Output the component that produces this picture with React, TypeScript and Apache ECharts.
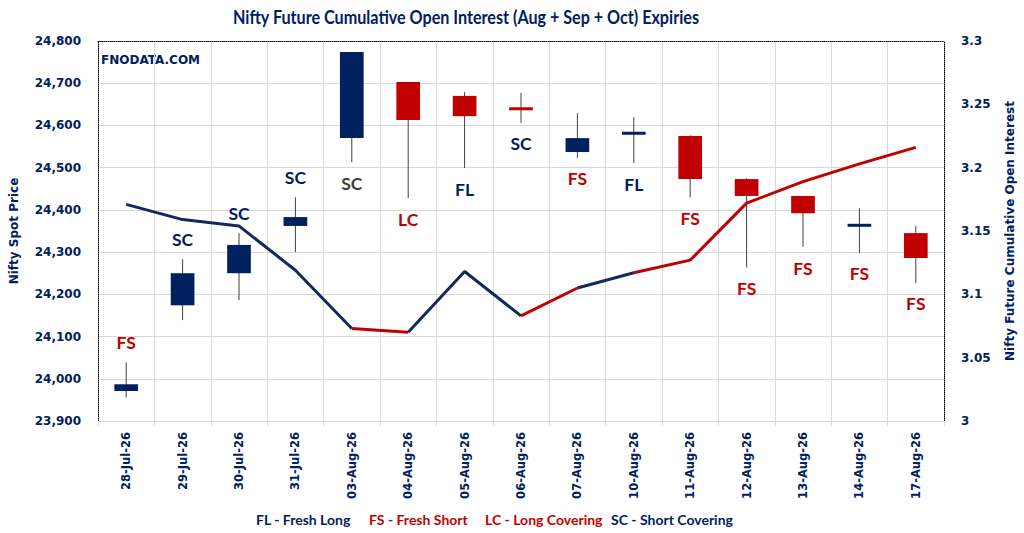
import React, { useEffect, useRef } from "react";
import * as echarts from "echarts";

const categories = [
  "28-Jul-26", "29-Jul-26", "30-Jul-26", "31-Jul-26", "03-Aug-26", "04-Aug-26", "05-Aug-26",
  "06-Aug-26", "07-Aug-26", "10-Aug-26", "11-Aug-26", "12-Aug-26", "13-Aug-26", "14-Aug-26", "17-Aug-26",
];
const opens = [23971, 24174, 24250, 24362, 24570, 24703, 24670, 24642, 24537, 24580, 24575, 24473, 24433, 24362, 24345];
const closes = [23987, 24250, 24317, 24383, 24774, 24613, 24622, 24637, 24570, 24583, 24473, 24433, 24392, 24365, 24286];
const lows = [23956, 24139, 24186, 24300, 24513, 24428, 24499, 24606, 24523, 24511, 24430, 24264, 24312, 24298, 24227];
const highs = [24039, 24283, 24345, 24430, 24774, 24703, 24679, 24677, 24629, 24620, 24577, 24475, 24433, 24404, 24362];
const openInterest = [3.171, 3.159, 3.154, 3.119, 3.073, 3.070, 3.118, 3.083, 3.105, 3.117, 3.127, 3.172, 3.189, 3.203, 3.216];
const signals = ["FS", "SC", "SC", "SC", "SC", "LC", "FL", "SC", "FS", "FL", "FS", "FS", "FS", "FS", "FS"];
const signalPlacement = ["above", "above", "above", "above", "below", "below", "below", "below", "below", "below", "below", "below", "below", "below", "below"];
const signalColorNames = ["red", "navy", "navy", "navy", "gray", "red", "navy", "navy", "red", "navy", "red", "red", "red", "red", "red"];
// colour of the OI line segment that ends at index i+1
const segmentColorNames = ["navy", "navy", "navy", "navy", "red", "navy", "navy", "red", "navy", "red", "red", "red", "red", "red"];
const leftTicks = { min: 23900, max: 24800, interval: 100 };
const rightTicks = { min: 3, max: 3.3, interval: 0.05 };
const legendItems = [
  { text: "FL - Fresh Long", color: "navy" },
  { text: "FS - Fresh Short", color: "red" },
  { text: "LC - Long Covering", color: "red" },
  { text: "SC - Short Covering", color: "navy" },
];

const NAVY = "#002060";
const LINE_NAVY = "#14295c";
const RED = "#C00000";
const GRAY = "#404040";
const palette: Record<string, string> = { navy: NAVY, red: RED, gray: GRAY };

function buildOiSeries() {
  const series: any[] = [];
  let start = 0;
  for (let i = 1; i <= segmentColorNames.length; i++) {
    if (i === segmentColorNames.length || segmentColorNames[i] !== segmentColorNames[start]) {
      const color = segmentColorNames[start] === "red" ? RED : LINE_NAVY;
      const data = openInterest.map((v, k) => (k >= start && k <= i ? v : "-"));
      series.push({
        type: "line",
        xAxisIndex: 0,
        yAxisIndex: 1,
        data,
        showSymbol: false,
        symbol: "none",
        connectNulls: false,
        lineStyle: { color, width: 3 },
        z: 5,
      });
      start = i;
    }
  }
  return series;
}

export default function App() {
  const ref = useRef<HTMLDivElement>(null);
  useEffect(() => {
    if (!ref.current) return;
    const chart = echarts.init(ref.current, undefined, { renderer: "svg" });
    const candleData = categories.map((_, i) => [i, opens[i], closes[i], lows[i], highs[i]]);
    const legendX = [256, 369, 485, 611];
    const option: any = {
      animation: false,
      backgroundColor: "#ffffff",
      textStyle: { fontFamily: "DejaVu Sans" },
      grid: { left: 90, right: 78, top: 41, bottom: 112, containLabel: false },
      graphic: [
        {
          type: "text",
          x: 233,
          y: 7,
          scaleX: 0.85,
          style: {
            text: "Nifty Future Cumulative Open Interest (Aug + Sep + Oct) Expiries",
            fill: NAVY,
            font: "bold 19px Lato",
          },
        },
        {
          type: "text",
          left: 101,
          top: 54,
          style: {
            text: "FNODATA.COM",
            fill: NAVY,
            font: "bold 12px 'DejaVu Sans'",
            shadowColor: "rgba(0,0,0,0.35)",
            shadowBlur: 2,
            shadowOffsetX: 1,
            shadowOffsetY: 1,
          },
        },
        ...legendItems.map((it, i) => ({
          type: "text",
          left: legendX[i],
          top: 512,
          style: { text: it.text, fill: palette[it.color], font: "bold 14px Lato" },
        })),
      ],
      xAxis: [
        {
          type: "category",
          data: categories,
          boundaryGap: true,
          position: "bottom",
          axisLine: { show: true, lineStyle: { color: "#d9d9d9", width: 1 } },
          axisTick: { show: true, length: 5, lineStyle: { color: "#d9d9d9" } },
          splitLine: { show: true, lineStyle: { color: "#d9d9d9", width: 1 } },
          axisLabel: {
            rotate: 90,
            margin: 11,
            color: NAVY,
            fontWeight: "bold",
            fontSize: 11.5,
            fontFamily: "DejaVu Sans",
            interval: 0,
          },
        },
        {
          type: "category",
          data: categories,
          position: "top",
          axisLine: { show: true, lineStyle: { color: "#000", type: [1, 1], width: 1 } },
          axisTick: { show: false },
          axisLabel: { show: false },
          splitLine: { show: false },
        },
      ],
      yAxis: [
        {
          type: "value",
          min: leftTicks.min,
          max: leftTicks.max,
          interval: leftTicks.interval,
          position: "left",
          name: "Nifty Spot Price",
          nameLocation: "middle",
          nameGap: 78,
          nameRotate: 90,
          nameTextStyle: { color: NAVY, fontWeight: "bold", fontSize: 12, fontFamily: "DejaVu Sans" },
          axisLine: { show: true, lineStyle: { color: "#000", type: [1, 1], width: 1 } },
          axisTick: { show: false },
          splitLine: { show: true, lineStyle: { color: "#d9d9d9", width: 1 } },
          axisLabel: {
            margin: 17,
            color: NAVY,
            fontWeight: "bold",
            fontSize: 12,
            fontFamily: "DejaVu Sans",
            formatter: (v: number) => v.toLocaleString("en-US"),
          },
        },
        {
          type: "value",
          min: rightTicks.min,
          max: rightTicks.max,
          interval: rightTicks.interval,
          position: "right",
          name: "Nifty Future Cumulative Open Interest",
          nameLocation: "middle",
          nameGap: 60,
          nameRotate: 90,
          nameTextStyle: { color: NAVY, fontWeight: "bold", fontSize: 12, fontFamily: "DejaVu Sans" },
          axisLine: { show: true, lineStyle: { color: "#000", type: [1, 1], width: 1 } },
          axisTick: { show: false },
          splitLine: { show: false },
          axisLabel: {
            margin: 17,
            color: NAVY,
            fontWeight: "bold",
            fontSize: 12,
            fontFamily: "DejaVu Sans",
            formatter: (v: number) => String(+v.toFixed(2)),
          },
        },
      ],
      series: [
        {
          type: "custom",
          xAxisIndex: 0,
          yAxisIndex: 0,
          data: candleData,
          encode: { x: 0, y: [1, 2, 3, 4] },
          z: 3,
          clip: false,
          renderItem: (params: any, api: any) => {
            const i = api.value(0);
            const o = api.value(1);
            const c = api.value(2);
            const lo = api.value(3);
            const hi = api.value(4);
            const pO = api.coord([i, o]);
            const pC = api.coord([i, c]);
            const pL = api.coord([i, lo]);
            const pH = api.coord([i, hi]);
            const w = api.size([1, 0])[0] * 0.42;
            const top = Math.min(pO[1], pC[1]);
            let h = Math.abs(pO[1] - pC[1]);
            let y0 = top;
            if (h < 3) {
              y0 = (pO[1] + pC[1]) / 2 - 1.5;
              h = 3;
            }
            const up = c >= o;
            const idx = params.dataIndex;
            const below = signalPlacement[idx] === "below";
            return {
              type: "group",
              children: [
                {
                  type: "line",
                  shape: { x1: pH[0], y1: pH[1], x2: pL[0], y2: pL[1] },
                  style: { stroke: GRAY, lineWidth: 1 },
                },
                {
                  type: "rect",
                  shape: { x: pO[0] - w / 2, y: y0, width: w, height: h },
                  style: { fill: up ? NAVY : RED },
                },
                {
                  type: "text",
                  x: pO[0],
                  y: below ? pL[1] + 21 : pH[1] - 20,
                  style: {
                    text: signals[idx],
                    fill: palette[signalColorNames[idx]],
                    font: "bold 17.5px Lato",
                    align: "center",
                    verticalAlign: "middle",
                  },
                },
              ],
            };
          },
        },
        ...buildOiSeries(),
      ],
    };
    chart.setOption(option);
    return () => chart.dispose();
  }, []);
  return <div ref={ref} style={{ width: 1024, height: 533, position: "absolute", left: 0, top: 0 }} />;
}
